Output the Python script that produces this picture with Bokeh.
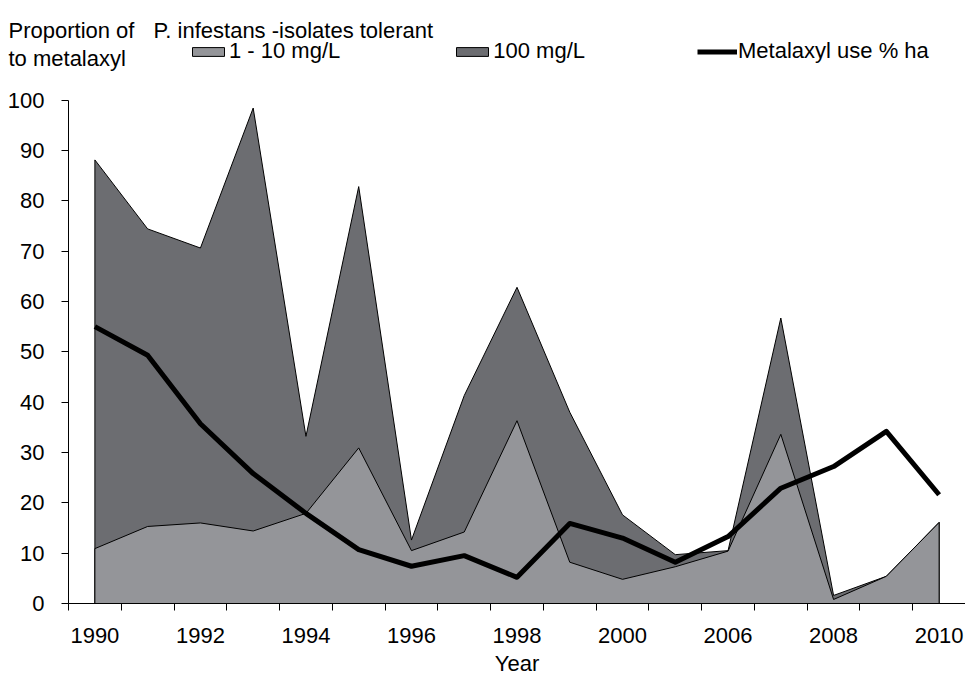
from bokeh.plotting import figure
from bokeh.models import Range1d, FixedTicker, Label, Legend, LegendItem
from bokeh.embed import file_html
from bokeh.resources import INLINE

# ---- data ----
years = ["1990", "1991", "1992", "1993", "1994", "1995", "1996", "1997", "1998",
         "1999", "2000", "2001", "2006", "2007", "2008", "2009", "2010"]
tolerant_1_10 = [10.9, 15.3, 16.0, 14.4, 17.9, 30.9, 10.5, 14.2, 36.3,
                 8.2, 4.8, 7.3, 10.4, 33.6, 0.8, 5.4, 16.1]
tolerant_100 = [88.1, 74.4, 70.6, 98.4, 33.2, 82.8, 12.6, 41.3, 62.8,
                38.0, 17.6, 9.7, 10.5, 56.7, 1.6, 5.4, 16.1]
metalaxyl_use = [55.0, 49.3, 35.7, 25.8, 17.9, 10.7, 7.4, 9.5, 5.2,
                 15.9, 13.0, 8.2, 13.3, 22.9, 27.2, 34.2, 21.6]
y_ticks = [0, 10, 20, 30, 40, 50, 60, 70, 80, 90, 100]
series_names = ["1 - 10 mg/L", "100 mg/L", "Metalaxyl use % ha"]
header_lines = ["Proportion of", "P. infestans -isolates tolerant", "to metalaxyl"]

# ---- layout (pixels on the canvas) ----
W, H = 965, 676
AX_L, AX_R = 68, 965      # plot area left / right
AX_T, AX_B = 99.5, 603    # y = 100 / y = 0
FONT = "Liberation Sans"
FS = "22px"
DARK = "#6c6d71"
LIGHT = "#949599"

n = len(years)
xs = list(range(n))
ymax = y_ticks[-1]

# the frame covers the whole canvas; axes are pinned at the plot-area edges
px_x = (AX_R - AX_L) / n
px_y = (AX_B - AX_T) / ymax
x0 = -0.5 - AX_L / px_x
x1 = x0 + W / px_x
y0 = -(H - AX_B) / px_y
y1 = y0 + H / px_y

p = figure(width=W, height=H, output_backend="svg", toolbar_location=None,
           x_range=Range1d(x0, x1), y_range=Range1d(y0, y1),
           min_border_left=0, min_border_right=0,
           min_border_top=0, min_border_bottom=0)
p.outline_line_color = None
p.grid.visible = False
p.background_fill_color = "white"
p.border_fill_color = "white"


def px_to_x(px):
    return x0 + px / px_x


def px_to_y(py):
    return y1 - py / px_y


# areas (closed polygons down to zero)
dark = p.patch(x=[xs[0]] + xs + [xs[-1]], y=[0] + tolerant_100 + [0],
               fill_color=DARK, line_color="black", line_width=1)
light = p.patch(x=[xs[0]] + xs + [xs[-1]], y=[0] + tolerant_1_10 + [0],
                fill_color=LIGHT, line_color="black", line_width=1)
use = p.line(x=xs, y=metalaxyl_use, line_color="black", line_width=5,
             line_join="round")

# x axis: labels at every other category centre, tick marks at boundaries
xa = p.xaxis[0]
xa.fixed_location = 0
xa.bounds = (-0.5, n - 0.5)
xa.ticker = FixedTicker(ticks=xs[::2],
                        minor_ticks=[i - 0.5 for i in range(n + 1)])
xa.major_label_overrides = {i: years[i] for i in xs[::2]}
xa.major_tick_out = 0
xa.major_tick_in = 0
xa.minor_tick_out = 7
xa.minor_tick_in = 0
xa.minor_tick_line_color = "black"
xa.axis_line_color = "black"
xa.major_label_text_font = FONT
xa.major_label_text_font_size = FS
xa.major_label_text_color = "black"
xa.major_label_standoff = 17
xa.axis_label = "Year"
xa.axis_label_text_font = FONT
xa.axis_label_text_font_size = FS
xa.axis_label_text_font_style = "normal"
xa.axis_label_text_color = "black"
xa.axis_label_standoff = 5

ya = p.yaxis[0]
ya.fixed_location = -0.5
ya.bounds = (0, ymax)
ya.ticker = FixedTicker(ticks=y_ticks)
ya.major_tick_out = 7
ya.major_tick_in = 0
ya.minor_tick_line_color = None
ya.axis_line_color = "black"
ya.major_tick_line_color = "black"
ya.major_label_text_font = FONT
ya.major_label_text_font_size = FS
ya.major_label_text_color = "black"
ya.major_label_standoff = 17

# ---- header: axis title text ----
for txt, hx, hy in [(header_lines[0], 8, 30),
                    (header_lines[1], 153, 30),
                    (header_lines[2], 8, 58)]:
    p.add_layout(Label(x=px_to_x(hx), y=px_to_y(hy), text=txt, text_font=FONT,
                       text_font_size=FS, text_color="black",
                       text_baseline="alphabetic", text_align="left"))

legend = Legend(items=[LegendItem(label=series_names[0], renderers=[light]),
                       LegendItem(label=series_names[1], renderers=[dark]),
                       LegendItem(label=series_names[2], renderers=[use])],
                orientation="horizontal", location=(188, H - 64),
                glyph_width=40, glyph_height=11, label_standoff=1,
                spacing=112, padding=0, margin=0,
                border_line_color=None, background_fill_alpha=0,
                label_text_font=FONT, label_text_font_size=FS,
                label_text_color="black")
p.add_layout(legend)

open("out.html", "w").write(file_html(p, INLINE))
